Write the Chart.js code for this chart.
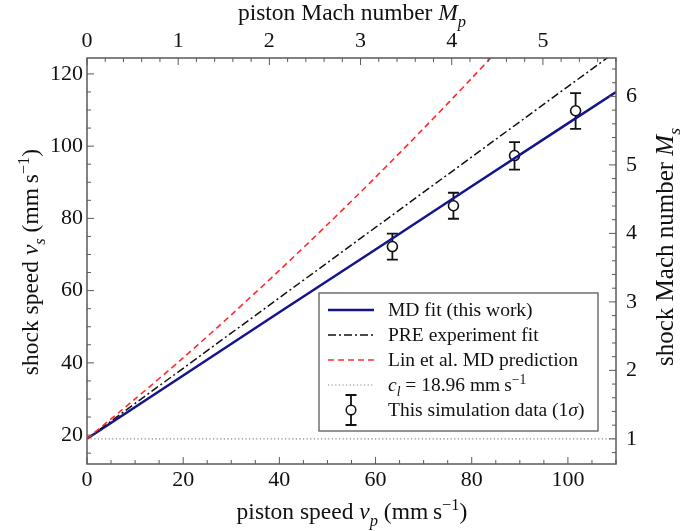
<!DOCTYPE html>
<html>
<head>
<meta charset="utf-8">
<script src="https://cdn.jsdelivr.net/npm/chart.js@4/dist/chart.umd.min.js"></script>
<style>
  html, body { margin: 0; padding: 0; background: #fff; }
  #wrap { width: 697px; height: 531px; position: relative; }
</style>
</head>
<body>
<div id="wrap"><canvas id="chart"></canvas></div>
<script>
// sound speed used for the Mach axes
const soundSpeed = 18.96;

// MD fit (this work)
const mdFitX = [0, 20, 40, 60, 80, 100, 110];
const mdFitY = [19.0, 36.5, 54.0, 71.4, 88.9, 106.3, 115.0];

// PRE experiment fit
const preFitX = [0, 20, 40, 60, 80, 100, 110];
const preFitY = [19.0, 38.5, 58.0, 77.5, 97.0, 116.5, 126.2];

// Lin et al. MD prediction (slightly curved)
const linX = [0, 10, 20, 30, 40, 50, 60, 70, 80, 85];
const linY = [19.0, 30.0, 41.4, 53.3, 65.6, 78.3, 91.4, 104.9, 118.8, 125.9];

// simulation points with 1 sigma bars
const simX = [63.5, 76.2, 88.9, 101.6];
const simY = [72.2, 83.5, 97.4, 109.8];
const simLow = [68.6, 79.9, 93.5, 104.8];
const simHigh = [75.8, 87.1, 101.1, 114.7];

// axes
const xRange = [0, 110];
const yRange = [12.0, 124.4];
const xTicks = [0, 20, 40, 60, 80, 100];
const yTicks = [20, 40, 60, 80, 100, 120];
const machTicksTop = [0, 1, 2, 3, 4, 5];
const machTicksRight = [1, 2, 3, 4, 5, 6];

const SERIF = '"Liberation Serif", "DejaVu Serif", serif';
const FRAME = '#5a5a5a';

const pts = (xs, ys) => xs.map((x, i) => ({ x, y: ys[i] }));

function richWidth(ctx, parts, size) {
  let w = 0;
  for (const p of parts) {
    const s = (p.sub || p.sup) ? size * 0.7 : size;
    ctx.font = `${p.i ? 'italic ' : ''}${s}px ${SERIF}`;
    w += ctx.measureText(p.t).width;
  }
  return w;
}

function drawRich(ctx, parts, x, y, size, align) {
  const w = richWidth(ctx, parts, size);
  let cx = align === 'center' ? x - w / 2 : x;
  ctx.textBaseline = 'alphabetic';
  ctx.textAlign = 'left';
  for (const p of parts) {
    const s = (p.sub || p.sup) ? size * 0.7 : size;
    ctx.font = `${p.i ? 'italic ' : ''}${s}px ${SERIF}`;
    const dy = p.sub ? size * 0.28 : p.sup ? -size * 0.38 : 0;
    ctx.fillText(p.t, cx, y + dy);
    cx += ctx.measureText(p.t).width;
  }
}

const unitParts = [{ t: ' (mm\u2009s' }, { t: '\u22121', sup: 1 }, { t: ')' }];

const decor = {
  id: 'decor',
  beforeDatasetsDraw(chart) {
    // error bars below the circles
    const ctx = chart.ctx, xs = chart.scales.x, ys = chart.scales.y;
    ctx.save();
    ctx.strokeStyle = '#111';
    ctx.lineWidth = 1.8;
    simX.forEach((v, i) => {
      const px = xs.getPixelForValue(v);
      const lo = ys.getPixelForValue(simLow[i]);
      const hi = ys.getPixelForValue(simHigh[i]);
      ctx.beginPath();
      ctx.moveTo(px, lo); ctx.lineTo(px, hi);
      ctx.moveTo(px - 5.5, lo); ctx.lineTo(px + 5.5, lo);
      ctx.moveTo(px - 5.5, hi); ctx.lineTo(px + 5.5, hi);
      ctx.stroke();
    });
    ctx.restore();
  },
  afterDraw(chart) {
    const ctx = chart.ctx, a = chart.chartArea;
    const sc = chart.scales;
    ctx.save();

    // frame
    ctx.strokeStyle = FRAME;
    ctx.lineWidth = 1.5;
    ctx.strokeRect(a.left, a.top, a.right - a.left, a.bottom - a.top);

    // inward ticks
    ctx.lineWidth = 1;
    const tickSet = (scale, step, major, horiz, edge, dir) => {
      for (let v = Math.ceil(scale.min / step) * step; v <= scale.max + 1e-9; v += step) {
        const isMajor = Math.abs(v / major - Math.round(v / major)) < 1e-6;
        const len = isMajor ? 7 : 4;
        const p = scale.getPixelForValue(v);
        ctx.beginPath();
        if (horiz) { ctx.moveTo(p, edge); ctx.lineTo(p, edge + dir * len); }
        else { ctx.moveTo(edge, p); ctx.lineTo(edge + dir * len, p); }
        ctx.stroke();
      }
    };
    tickSet(sc.x, 5, 20, true, a.bottom, -1);
    tickSet(sc.xTop, 0.2, 1, true, a.top, 1);
    tickSet(sc.y, 5, 20, false, a.left, 1);
    tickSet(sc.yRight, 0.2, 1, false, a.right, -1);

    // axis titles
    const ts = 23.5;
    ctx.fillStyle = '#111';
    drawRich(ctx, [{ t: 'piston Mach number ' }, { t: 'M', i: 1 }, { t: 'p', i: 1, sub: 1 }], 352, 20, ts, 'center');
    drawRich(ctx, [{ t: 'piston speed ' }, { t: 'v', i: 1 }, { t: 'p', i: 1, sub: 1 }, ...unitParts], 352, 519, ts, 'center');

    ctx.save();
    ctx.translate(38, 262);
    ctx.rotate(-Math.PI / 2);
    drawRich(ctx, [{ t: 'shock speed ' }, { t: 'v', i: 1 }, { t: 's', i: 1, sub: 1 }, ...unitParts], 0, 0, ts, 'center');
    ctx.restore();

    ctx.save();
    ctx.translate(673, 247);
    ctx.rotate(-Math.PI / 2);
    drawRich(ctx, [{ t: 'shock Mach number ' }, { t: 'M', i: 1 }, { t: 's', i: 1, sub: 1 }], 0, 0, 25, 'center');
    ctx.restore();

    // legend
    const L = { x: 319, y: 293, w: 279, h: 138 };
    ctx.fillStyle = '#fff';
    ctx.fillRect(L.x, L.y, L.w, L.h);
    ctx.strokeStyle = FRAME;
    ctx.lineWidth = 1.3;
    ctx.strokeRect(L.x, L.y, L.w, L.h);

    const rows = [310, 335, 360, 385, 410];
    const x0 = 328, x1 = 374, tx = 388;
    const sample = (y, color, width, dash) => {
      ctx.strokeStyle = color; ctx.lineWidth = width; ctx.setLineDash(dash);
      ctx.beginPath(); ctx.moveTo(x0, y); ctx.lineTo(x1, y); ctx.stroke();
      ctx.setLineDash([]);
    };
    sample(rows[0], '#14148c', 2.5, []);
    sample(rows[1], '#111', 1.5, [8, 3, 2, 3]);
    sample(rows[2], '#ff2b2b', 1.5, [6, 4]);
    sample(rows[3], '#888', 1.2, [1.2, 2.4]);
    // error bar symbol
    const ex = 351, ey = rows[4];
    ctx.strokeStyle = '#111'; ctx.lineWidth = 1.8;
    ctx.beginPath();
    ctx.moveTo(ex, ey - 15); ctx.lineTo(ex, ey + 15);
    ctx.moveTo(ex - 5.5, ey - 15); ctx.lineTo(ex + 5.5, ey - 15);
    ctx.moveTo(ex - 5.5, ey + 15); ctx.lineTo(ex + 5.5, ey + 15);
    ctx.stroke();
    ctx.fillStyle = '#fff'; ctx.lineWidth = 1.5;
    ctx.beginPath(); ctx.arc(ex, ey, 4.8, 0, Math.PI * 2); ctx.fill(); ctx.stroke();

    ctx.fillStyle = '#111';
    const ls = 19.5, off = 6;
    drawRich(ctx, [{ t: 'MD fit (this work)' }], tx, rows[0] + off, ls);
    drawRich(ctx, [{ t: 'PRE experiment fit' }], tx, rows[1] + off, ls);
    drawRich(ctx, [{ t: 'Lin et al. MD prediction' }], tx, rows[2] + off, ls);
    drawRich(ctx, [{ t: 'c', i: 1 }, { t: 'l', i: 1, sub: 1 }, { t: ' = 18.96 mm\u2009s' }, { t: '\u22121', sup: 1 }], tx, rows[3] + off, ls);
    drawRich(ctx, [{ t: 'This simulation data (1' }, { t: '\u03c3', i: 1 }, { t: ')' }], tx, rows[4] + off, ls);

    ctx.restore();
  }
};

const tickFont = { family: SERIF, size: 22 };
const fixedTicks = vals => scale => { scale.ticks = vals.map(v => ({ value: v })); };
const noGrid = { display: false, drawTicks: false };

new Chart(document.getElementById('chart'), {
  type: 'scatter',
  data: {
    datasets: [
      {
        label: 'c_l',
        data: pts(xRange, [soundSpeed, soundSpeed]),
        showLine: true, pointRadius: 0,
        borderColor: '#888', borderWidth: 1.2, borderDash: [1.2, 2.4],
      },
      {
        label: 'Lin et al. MD prediction',
        data: pts(linX, linY),
        showLine: true, pointRadius: 0, tension: 0.3,
        borderColor: '#ff2b2b', borderWidth: 1.6, borderDash: [6, 4],
      },
      {
        label: 'PRE experiment fit',
        data: pts(preFitX, preFitY),
        showLine: true, pointRadius: 0,
        borderColor: '#111', borderWidth: 1.5, borderDash: [8, 3, 2, 3],
      },
      {
        label: 'MD fit (this work)',
        data: pts(mdFitX, mdFitY),
        showLine: true, pointRadius: 0,
        borderColor: '#14148c', borderWidth: 2.5,
      },
      {
        label: 'This simulation data (1σ)',
        data: pts(simX, simY),
        showLine: false,
        pointRadius: 5, pointBorderWidth: 1.6,
        pointBackgroundColor: '#fff', pointBorderColor: '#111',
      },
    ],
  },
  options: {
    responsive: true,
    maintainAspectRatio: false,
    animation: false,
    layout: { padding: 0 },
    plugins: { legend: { display: false }, tooltip: { enabled: false } },
    scales: {
      x: {
        type: 'linear', position: 'bottom', min: xRange[0], max: xRange[1],
        afterBuildTicks: fixedTicks(xTicks),
        afterFit: s => { s.height = 67; },
        grid: noGrid, border: { display: false },
        ticks: { font: tickFont, color: '#111', padding: 3, maxRotation: 0 },
      },
      xTop: {
        type: 'linear', position: 'top', min: xRange[0] / soundSpeed, max: xRange[1] / soundSpeed,
        afterBuildTicks: fixedTicks(machTicksTop),
        afterFit: s => { s.height = 58; },
        grid: noGrid, border: { display: false },
        ticks: { font: tickFont, color: '#111', padding: 4, maxRotation: 0 },
      },
      y: {
        type: 'linear', position: 'left', min: yRange[0], max: yRange[1],
        afterBuildTicks: fixedTicks(yTicks),
        afterFit: s => { s.width = 87; },
        grid: noGrid, border: { display: false },
        ticks: { font: tickFont, color: '#111', padding: 4 },
      },
      yRight: {
        type: 'linear', position: 'right', min: yRange[0] / soundSpeed, max: yRange[1] / soundSpeed,
        afterBuildTicks: fixedTicks(machTicksRight),
        afterFit: s => { s.width = 81; },
        grid: noGrid, border: { display: false },
        ticks: { font: tickFont, color: '#111', padding: 10 },
      },
    },
  },
  plugins: [decor],
});
</script>
</body>
</html>
